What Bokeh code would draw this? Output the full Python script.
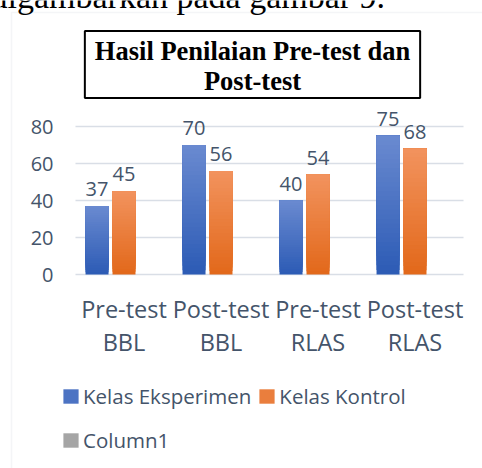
from bokeh.plotting import figure
from bokeh.models import (Range1d, ColumnDataSource, Label, BoxAnnotation,
                          Legend, LegendItem, FixedTicker)
from bokeh.transform import dodge
from bokeh.embed import file_html
from bokeh.resources import INLINE
from bokeh.core.properties import value

# ---- data ----
categories = ["Pre-test\nBBL", "Post-test\nBBL", "Pre-test\nRLAS", "Post-test\nRLAS"]
eksperimen = [37, 70, 40, 75]
kontrol = [45, 56, 54, 68]
column1 = [float("nan")] * 4          # empty series
series_names = ["Kelas Eksperimen", "Kelas Kontrol", "Column1"]
y_ticks = [0, 20, 40, 60, 80]
title_text = "Hasil Penilaian Pre-test dan\nPost-test"
doc_text = "digambarkan pada gambar 9."

TXT = "#44546A"
FONT = "Open Sans"

W, H = 482, 468
PX_X = 97.0        # px per category
PX_Y = 148 / 80    # px per value unit
X0 = 123.5         # px of first category centre
Y0 = 274           # px (from top) of value 0

idx = list(range(len(categories)))

p = figure(width=W, height=H, output_backend="svg", toolbar_location=None,
           x_range=Range1d(-X0 / PX_X, (W - X0) / PX_X),
           y_range=Range1d(-(H - Y0) / PX_Y, Y0 / PX_Y),
           min_border=0, min_border_left=0, min_border_right=0,
           min_border_top=0, min_border_bottom=0)
p.outline_line_color = None
p.background_fill_color = "white"
p.border_fill_color = "white"

def mix(c1, c2, t):
    a = [int(c1[i:i + 2], 16) for i in (1, 3, 5)]
    b = [int(c2[i:i + 2], 16) for i in (1, 3, 5)]
    return "#%02x%02x%02x" % tuple(round(a[j] + (b[j] - a[j]) * t) for j in range(3))

N = 30
def gradient_source(values, bottom_hex, top_hex, n=N):
    # overlapping slices (each runs to the bar top), later ones drawn on top
    xs, bots, tops, cols = [], [], [], []
    for k in range(n):
        for i, v in zip(idx, values):
            xs.append(i)
            bots.append(v * k / n)
            tops.append(v)
            cols.append(mix(bottom_hex, top_hex, (k + 0.5) / n))
    return ColumnDataSource(dict(x=xs, bottom=bots, top=tops, color=cols))

BW = 0.237
OFF = [-0.278, 0.0, 0.278]

# gridlines across the category area
p.segment(x0=-0.5, x1=len(categories) - 0.5, y0=y_ticks, y1=y_ticks,
          line_color="#D9DEE6", line_width=1.5)

src_e = gradient_source(eksperimen, "#2C5BB5", "#6A8AD0")
src_k = gradient_source(kontrol, "#E2681A", "#F2935E")
r_e = p.vbar(x=dodge("x", OFF[0]), bottom="bottom", top="top", width=BW,
             source=src_e, fill_color="color", line_color=None)
r_k = p.vbar(x=dodge("x", OFF[1]), bottom="bottom", top="top", width=BW,
             source=src_k, fill_color="color", line_color=None)
src_c = ColumnDataSource(dict(x=idx, top=column1))
r_c = p.vbar(x=dodge("x", OFF[2]), top="top", width=BW, source=src_c,
             fill_color="#A5A5A5", line_color=None)

# data labels
for vals, off in ((eksperimen, OFF[0]), (kontrol, OFF[1])):
    s = ColumnDataSource(dict(x=idx, y=vals, t=[str(v) for v in vals]))
    p.text(x=dodge("x", off), y="y", text="t", source=s,
           text_align="center", text_baseline="alphabetic", y_offset=-17,
           text_font=value(FONT), text_font_size="20px", text_color=TXT)

# axes drawn inside the frame
p.xgrid.visible = False
p.ygrid.visible = False
p.yaxis.fixed_location = -0.5
p.xaxis.fixed_location = 0
p.yaxis.ticker = FixedTicker(ticks=y_ticks)
p.xaxis.ticker = FixedTicker(ticks=idx)
p.xaxis.major_label_overrides = {i: c for i, c in zip(idx, categories)}
for ax in (p.xaxis, p.yaxis):
    ax.axis_line_color = None
    ax.major_tick_line_color = None
    ax.minor_tick_line_color = None
    ax.major_tick_out = 0
    ax.major_tick_in = 0
    ax.minor_tick_out = 0
    ax.minor_tick_in = 0
    ax.major_label_text_color = TXT
    ax.major_label_text_font = FONT
p.yaxis.major_label_text_font_size = "20px"
p.yaxis.major_label_standoff = 22
p.xaxis.major_label_text_font_size = "23.5px"
p.xaxis.major_label_standoff = 18
p.xaxis.major_label_text_line_height = 1.05

# chart border
p.add_layout(BoxAnnotation(left=11, right=800, top=H - 12, bottom=-300,
                           left_units="screen", right_units="screen",
                           top_units="screen", bottom_units="screen",
                           fill_alpha=0, line_color="#D9DEE6", line_width=1.5))

# document text (cut off at top)
p.add_layout(Label(x=-10, y=H + 4.5, x_units="screen", y_units="screen",
                   text=doc_text, text_font="Liberation Serif", text_font_size="34px",
                   text_color="black", text_baseline="alphabetic"))

# title box
p.add_layout(Label(x=(84 + 420) / 2, y=H - 64, x_units="screen", y_units="screen",
                   text=title_text, text_align="center", text_baseline="middle",
                   text_font="Liberation Serif", text_font_style="bold", text_font_size="26.5px",
                   text_color="black", text_line_height=1.0,
                   border_line_color="black", border_line_width=2,
                   background_fill_color="white",
                   padding=dict(left=10, right=10, top=5, bottom=2)))

legend = Legend(items=[LegendItem(label=series_names[0], renderers=[r_e], index=(N // 2) * 4),
                       LegendItem(label=series_names[1], renderers=[r_k], index=(N // 2) * 4),
                       LegendItem(label=series_names[2], renderers=[r_c], index=0)],
                orientation="horizontal", ncols=2, location=(61, 9),
                padding=0, margin=0, border_line_color=None, background_fill_alpha=0,
                glyph_width=19, glyph_height=18, label_standoff=3, spacing=6,
                label_height=38,
                label_text_font=FONT, label_text_font_size="20.5px", label_text_color=TXT)
p.add_layout(legend, "center")

open("out.html", "w").write(file_html(p, INLINE))
